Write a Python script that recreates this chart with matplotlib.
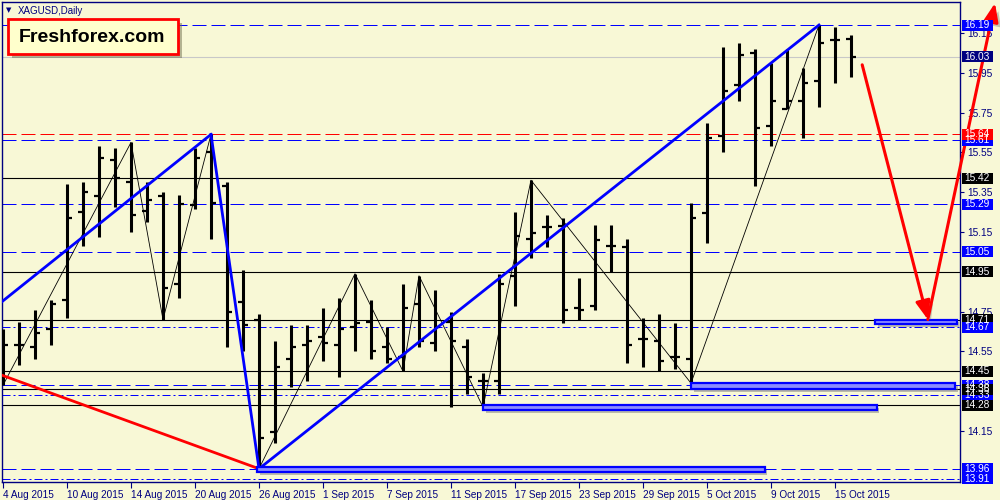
import matplotlib
matplotlib.use("Agg")
import matplotlib.pyplot as plt
import matplotlib.patches as mpatches
import matplotlib.patheffects as pe

plt.rcParams['font.family'] = ['Liberation Sans', 'DejaVu Sans']

# XAGUSD daily bars, 4 Aug 2015 .. 16 Oct 2015
opens = [14.55, 14.58, 14.57, 14.66, 14.81, 15.25, 15.33, 15.51, 15.40, 15.255,
         15.33, 14.89, 15.285, 15.55, 15.38, 14.80, 14.71, 14.145, 14.51, 14.58,
         14.62, 14.58, 14.67, 14.70, 14.57, 14.52, 14.79, 14.59, 14.70, 14.57,
         14.40, 14.40, 14.93, 15.115, 15.175, 15.18, 14.77, 14.78, 15.08, 15.075,
         14.61, 14.60, 14.52, 14.51, 15.245, 15.63, 15.89, 16.05, 15.68, 15.77,
         15.81, 15.91, 16.115, 16.12]
highs = [14.66, 14.70, 14.76, 14.81, 15.39, 15.40, 15.58, 15.57, 15.60, 15.40,
         15.35, 15.335, 15.57, 15.64, 15.40, 14.96, 14.74, 14.60, 14.68, 14.68,
         14.77, 14.82, 14.94, 14.81, 14.67, 14.89, 14.93, 14.86, 14.75, 14.61,
         14.44, 14.94, 15.25, 15.41, 15.235, 15.22, 14.92, 15.185, 15.185, 15.115,
         14.72, 14.74, 14.69, 15.295, 15.70, 16.08, 16.10, 16.07, 16.00, 16.07,
         15.975, 16.19, 16.18, 16.14]
lows = [14.38, 14.48, 14.51, 14.58, 14.72, 15.08, 15.125, 15.275, 15.15, 15.20,
        14.71, 14.82, 15.265, 15.115, 14.57, 14.55, 13.96, 14.09, 14.37, 14.40,
        14.50, 14.42, 14.55, 14.51, 14.49, 14.45, 14.57, 14.55, 14.27, 14.335,
        14.27, 14.335, 14.78, 15.02, 15.075, 14.69, 14.71, 14.76, 14.95, 14.49,
        14.47, 14.45, 14.46, 14.39, 15.095, 15.55, 15.81, 15.38, 15.58, 15.77,
        15.62, 15.78, 15.90, 15.93]
closes = [14.58, 14.58, 14.64, 14.79, 15.22, 15.35, 15.52, 15.42, 15.235, 15.31,
          14.87, 15.29, 15.52, 15.295, 14.75, 14.68, 14.115, 14.47, 14.57, 14.60,
          14.59, 14.66, 14.69, 14.55, 14.51, 14.77, 14.60, 14.67, 14.60, 14.42,
          14.40, 14.89, 15.13, 15.145, 15.175, 14.76, 14.76, 15.11, 15.08, 14.58,
          14.61, 14.50, 14.52, 15.22, 15.62, 15.86, 16.04, 15.67, 15.81, 15.81,
          15.90, 16.10, 16.115, 16.03]

date_labels = ['4 Aug 2015', '10 Aug 2015', '14 Aug 2015', '20 Aug 2015', '26 Aug 2015',
               '1 Sep 2015', '7 Sep 2015', '11 Sep 2015', '17 Sep 2015', '23 Sep 2015',
               '29 Sep 2015', '5 Oct 2015', '9 Oct 2015', '15 Oct 2015']
# axis scale labels that are not hidden behind a price tag
price_ticks = [14.15, 14.55, 14.75, 15.15, 15.35, 15.55, 15.75, 15.95, 16.15]

# horizontal levels
blue_dash = [16.19, 15.61, 15.29, 15.05, 14.38, 13.96]
blue_dashdot = [14.67, 14.33, 13.91]
black_solid = [15.42, 14.95, 14.71, 14.45, 14.36, 14.28]
red_dash = [15.64]
last_price = 16.03

# swing zigzag (bar index, price)
zigzag_bars = [0, 8, 10, 13, 16, 22, 25, 26, 30, 33, 43, 51]
zigzag_prices = [14.38, 15.60, 14.71, 15.64, 13.96, 14.94, 14.45, 14.93, 14.27, 15.41, 14.39, 16.19]

# thick trend lines
blue_trend_bars = [[-0.06, 13], [13, 16], [16, 51]]
blue_trend_prices = [[14.80, 15.64], [15.64, 13.96], [13.96, 16.19]]
red_trend_bars = [-0.06, 16]
red_trend_prices = [14.43, 13.96]

# support zones
zone_start = [15.9, 30, 43, 54.5]
zone_end = [47.6, 54.6, 59.5, 59.6]
zone_top = [13.97, 14.28, 14.39, 14.71]
zone_bottom = [13.945, 14.255, 14.36, 14.685]

# forecast arrows (down, then up)
arrow_bars = [53.7, 57.8, 62.0]
arrow_prices = [15.99, 14.71, 16.30]

# price tags on the right axis (drawn in this order)
tag_prices = [16.19, 15.61, 15.64, 15.42, 15.29, 15.05, 14.95, 14.71, 14.67,
              14.45, 14.38, 14.33, 14.36, 14.28, 13.96, 13.91, 16.03]
tag_colors = ['#0000ff', '#0000ff', '#ff0000', '#000000', '#0000ff', '#0000ff', '#000000',
              '#000000', '#0000ff', '#000000', '#0000ff', '#0000ff', '#000000', '#000000',
              '#0000ff', '#0000ff', '#000080']

bg = '#f8f8d6'
navy = '#000080'

fig = plt.figure(figsize=(10, 5), dpi=100, facecolor=bg)
ax = fig.add_axes([0.002, 0.036, 0.958, 0.96], facecolor=bg)
ax.set_xlim(-0.0625, 59.8125)
ax.set_ylim(13.8935, 16.3056)

# levels
for lv in blue_dash:
    ax.axhline(lv, color='#0000ff', lw=0.72, dashes=(14, 5), zorder=1)
for lv in blue_dashdot:
    ax.axhline(lv, color='#0000ff', lw=0.72, dashes=(8, 3, 2, 3), zorder=1)
for lv in black_solid:
    ax.axhline(lv, color='black', lw=0.8, zorder=1)
for lv in red_dash:
    ax.axhline(lv, color='#ff0000', lw=0.72, dashes=(14, 5), zorder=1)
ax.axhline(last_price, color='#c8c8c8', lw=0.8, zorder=1)

# bars
idx = list(range(len(opens)))
ax.vlines(idx, lows, highs, color='black', lw=2.2, zorder=3)
ax.hlines(opens, [i - 0.32 for i in idx], idx, color='black', lw=1.6, zorder=3)
ax.hlines(closes, idx, [i + 0.32 for i in idx], color='black', lw=1.6, zorder=3)

ax.plot(zigzag_bars, zigzag_prices, color='black', lw=0.6, zorder=4)
for xs, ys in zip(blue_trend_bars, blue_trend_prices):
    ax.plot(xs, ys, color='#0000ff', lw=2.0, zorder=4)
ax.plot(red_trend_bars, red_trend_prices, color='#ff0000', lw=2.0, zorder=4)

shadow = [pe.SimplePatchShadow(offset=(2, -2), shadow_rgbFace='#808080', alpha=0.5), pe.Normal()]
for x0, x1, top, bot in zip(zone_start, zone_end, zone_top, zone_bottom):
    r = mpatches.Rectangle((x0, bot), x1 - x0, top - bot, facecolor='#8c8cff',
                           edgecolor='#0000ff', lw=1.6, zorder=5, path_effects=shadow)
    ax.add_patch(r)

for k in range(len(arrow_bars) - 1):
    a = mpatches.FancyArrowPatch((arrow_bars[k], arrow_prices[k]),
                                 (arrow_bars[k + 1], arrow_prices[k + 1]),
                                 arrowstyle='-|>,head_length=0.55,head_width=0.22',
                                 mutation_scale=20, color='#ff0000', lw=2.2,
                                 shrinkA=0, shrinkB=0, clip_on=False, zorder=6,
                                 path_effects=[pe.SimplePatchShadow(offset=(3, -3), shadow_rgbFace='#808080', alpha=0.45),
                                               pe.Normal()])
    ax.add_patch(a)

# axes styling
for s in ax.spines.values():
    s.set_color(navy)
    s.set_linewidth(1)
ax.yaxis.tick_right()
ax.set_yticks(price_ticks)
ax.set_yticklabels([f'{v:.2f}' for v in price_ticks])
ax.tick_params(axis='y', length=3, pad=2, labelsize=7.3, color=navy, labelcolor=navy)
ax.set_xticks(range(0, len(opens), 4))
ax.set_xticklabels(date_labels)
ax.tick_params(axis='x', length=4, pad=1.5, labelsize=7.2, color=navy, labelcolor=navy)
for lbl in ax.get_xticklabels():
    lbl.set_ha('left')

# right-side price tags
ytr = ax.get_yaxis_transform()
bx0 = (962 - 2) / 958
bw = 31 / 958
bh = 11 / 199
for p, c in zip(tag_prices, tag_colors):
    ax.add_patch(mpatches.Rectangle((bx0, p - bh / 2), bw, bh, transform=ytr,
                                    facecolor=c, edgecolor='none', clip_on=False, zorder=8))
    ax.text((964.5 - 2) / 958, p, f'{p:.2f}', transform=ytr, color='white', fontsize=7.3,
            ha='left', va='center', clip_on=False, zorder=9)

# title + logo
fig.text(0.009, 0.979, '\u25bc', color=navy, fontsize=5, ha='center', va='center', family='DejaVu Sans')
fig.text(0.018, 0.979, 'XAGUSD,Daily', color=navy, fontsize=7, ha='left', va='center')
logo = mpatches.Rectangle((0.0075, 0.892), 0.1705, 0.07, transform=fig.transFigure,
                          facecolor='#ffffcc', edgecolor='#ff0000', lw=2, zorder=10,
                          path_effects=[pe.SimplePatchShadow(offset=(3, -3), shadow_rgbFace='#707050', alpha=0.5),
                                        pe.Normal()])
fig.patches.append(logo)
fig.text(0.0925, 0.926, 'Freshforex.com', fontsize=14, fontweight='bold', color='black',
         ha='center', va='center', zorder=11)

fig.savefig('out.png', dpi=100, facecolor=bg)
